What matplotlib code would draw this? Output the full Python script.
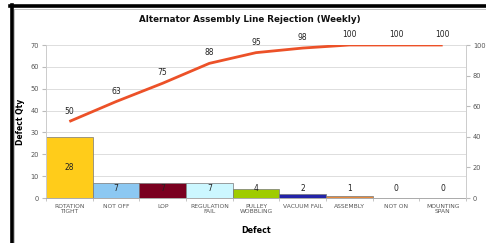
import matplotlib.pyplot as plt
from matplotlib.lines import Line2D
import numpy as np

# Datos
categorias = ['ROTATION\nTIGHT', 'NOT OFF', 'LOP', 'REGULATION\nFAIL', 'PULLEY\nWOBBLING',
              'VACUUM FAIL', 'ASSEMBLY', 'NOT ON', 'MOUNTING\nSPAN']
cantidad = [28, 7, 7, 7, 4, 2, 1, 0, 0]
acumulado = [50, 63, 75, 88, 95, 98, 100, 100, 100]
colores = ['#ffcc1a', '#8cc8f2', '#7a0020', '#ccf7ff', '#9fcc00',
           '#2424a8', '#e88a3c', '#ffffff', '#ffffff']

gris = '#555555'

fig = plt.figure(figsize=(4.86, 2.43), dpi=100, facecolor='white')

# marco tipo captura
fig.add_artist(Line2D([11.5 / 486, 11.5 / 486], [0, 1 - 5 / 243], transform=fig.transFigure,
                      color='black', lw=2.6))
fig.add_artist(Line2D([10 / 486, 1], [1 - 6.5 / 243, 1 - 6.5 / 243], transform=fig.transFigure,
                      color='black', lw=2.6))
fig.add_artist(Line2D([14 / 486, 1], [1 - 9 / 243, 1 - 9 / 243], transform=fig.transFigure,
                      color='#bbbbbb', lw=0.6))
fig.add_artist(Line2D([14 / 486, 14 / 486], [0, 1 - 9 / 243], transform=fig.transFigure,
                      color='#bbbbbb', lw=0.6))

ax = fig.add_axes([46 / 486, 45 / 243, 420 / 486, 153 / 243])
x = np.arange(len(categorias))

ax.bar(x, cantidad, width=1.0, color=colores, edgecolor='#777777', linewidth=0.5, zorder=2)
ax.set_xlim(-0.5, len(categorias) - 0.5)
ax.set_ylim(0, 70)
ax.set_yticks(range(0, 71, 10))
ax.yaxis.grid(True, color='#dddddd', linewidth=0.7, zorder=0)

for xi, v in zip(x, cantidad):
    ax.text(xi, max(v / 2, 4.2), str(v), ha='center', va='center', fontsize=5.5, color='#222222',
            zorder=5)

ax.set_xticks(x)
ax.set_xticklabels(categorias, fontsize=4.3, color=gris, linespacing=1.1)
ax.set_xticks(np.arange(-0.5, len(categorias), 1), minor=True)
ax.tick_params(axis='x', which='major', length=0, pad=4)
ax.tick_params(axis='x', which='minor', length=2, color='#bbbbbb')
ax.tick_params(axis='y', labelsize=4.8, labelcolor=gris, length=3, color='#bbbbbb', pad=2)

for s in ['top', 'right']:
    ax.spines[s].set_visible(False)
ax.spines['left'].set_color('#cccccc')
ax.spines['left'].set_linewidth(0.7)
ax.spines['bottom'].set_color('#aaaaaa')
ax.spines['bottom'].set_linewidth(0.7)

ax.set_ylabel('Defect Qty', fontsize=5.5, fontweight='bold')
ax.yaxis.set_label_coords(-21 / 420, 0.5)
ax.set_xlabel('Defect', fontsize=5.8, fontweight='bold', labelpad=9)

ax2 = ax.twinx()
ax2.plot(x, acumulado, color='#ec5128', linewidth=2, solid_capstyle='butt', zorder=4)
ax2.set_ylim(0, 100)
ax2.set_yticks(range(0, 101, 20))
ax2.tick_params(axis='y', labelsize=4.8, labelcolor=gris, length=3, color='#bbbbbb', pad=2)
for s in ['top', 'left', 'bottom']:
    ax2.spines[s].set_visible(False)
ax2.spines['right'].set_color('#cccccc')
ax2.spines['right'].set_linewidth(0.7)

for xi, v in zip(x, acumulado):
    ax2.annotate(str(v), xy=(xi, v), xytext=(0, 7.5), textcoords='offset points',
                 ha='center', va='center', fontsize=5.5, color='#222222', annotation_clip=False)

fig.text(250 / 486, 1 - 20 / 243, 'Alternator Assembly Line Rejection (Weekly)',
         ha='center', va='center', fontsize=6.3, fontweight='bold', color='#111111')

plt.savefig('out.png', dpi=100, facecolor='white')
